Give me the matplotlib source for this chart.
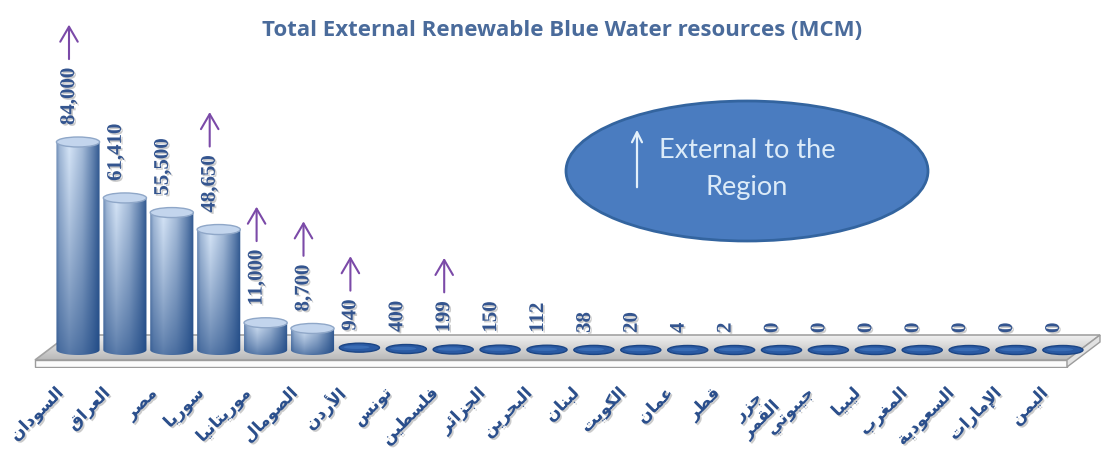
import numpy as np
import matplotlib
matplotlib.use("Agg")
import matplotlib.pyplot as plt
from matplotlib.patches import Ellipse, PathPatch, Polygon, FancyArrowPatch
from matplotlib.path import Path
from matplotlib import patheffects as pe
from matplotlib.colors import to_rgb
from matplotlib.transforms import ScaledTranslation, IdentityTransform

# ---------------------------------------------------------------- data
countries = ["السودان", "العراق", "مصر", "سوريا", "موريتانيا", "الصومال",
             "الأردن", "تونس", "فلسطين", "الجزائر", "البحرين", "لبنان",
             "الكويت", "عمان", "قطر", "جزر القمر", "جيبوتي", "ليبيا",
             "المغرب", "السعودية", "الإمارات", "اليمن"]
external_mcm = [84000, 61410, 55500, 48650, 11000, 8700, 940, 400, 199, 150,
                112, 38, 20, 4, 2, 0, 0, 0, 0, 0, 0, 0]
# countries whose external water comes from outside the region
outside_region = ["السودان", "سوريا", "موريتانيا", "الصومال", "الأردن", "فلسطين"]
title = "Total External Renewable Blue Water resources (MCM)"
note_lines = ["External to the", "Region"]

# ---------------------------------------------------------------- arabic shaping
_FORMS = {
    'ا': ('\uFE8D', '\uFE8E', None, None),
    'أ': ('\uFE83', '\uFE84', None, None),
    'إ': ('\uFE87', '\uFE88', None, None),
    'ب': ('\uFE8F', '\uFE90', '\uFE91', '\uFE92'),
    'ة': ('\uFE93', '\uFE94', None, None),
    'ت': ('\uFE95', '\uFE96', '\uFE97', '\uFE98'),
    'ج': ('\uFE9D', '\uFE9E', '\uFE9F', '\uFEA0'),
    'ح': ('\uFEA1', '\uFEA2', '\uFEA3', '\uFEA4'),
    'د': ('\uFEA9', '\uFEAA', None, None),
    'ر': ('\uFEAD', '\uFEAE', None, None),
    'ز': ('\uFEAF', '\uFEB0', None, None),
    'س': ('\uFEB1', '\uFEB2', '\uFEB3', '\uFEB4'),
    'ص': ('\uFEB9', '\uFEBA', '\uFEBB', '\uFEBC'),
    'ط': ('\uFEC1', '\uFEC2', '\uFEC3', '\uFEC4'),
    'ع': ('\uFEC9', '\uFECA', '\uFECB', '\uFECC'),
    'غ': ('\uFECD', '\uFECE', '\uFECF', '\uFED0'),
    'ف': ('\uFED1', '\uFED2', '\uFED3', '\uFED4'),
    'ق': ('\uFED5', '\uFED6', '\uFED7', '\uFED8'),
    'ك': ('\uFED9', '\uFEDA', '\uFEDB', '\uFEDC'),
    'ل': ('\uFEDD', '\uFEDE', '\uFEDF', '\uFEE0'),
    'م': ('\uFEE1', '\uFEE2', '\uFEE3', '\uFEE4'),
    'ن': ('\uFEE5', '\uFEE6', '\uFEE7', '\uFEE8'),
    'و': ('\uFEED', '\uFEEE', None, None),
    'ي': ('\uFEF1', '\uFEF2', '\uFEF3', '\uFEF4'),
    'ئ': ('\uFE89', '\uFE8A', '\uFE8B', '\uFE8C'),
}
_LAM_ALEF = {'ا': ('\uFEFB', '\uFEFC'), 'أ': ('\uFEF7', '\uFEF8'),
             'إ': ('\uFEF9', '\uFEFA')}


def shape_arabic(word):
    """Contextual forms + visual (left-to-right) order for plain rendering."""
    chars = list(word)
    tokens, k = [], 0
    while k < len(chars):
        if chars[k] == 'ل' and k + 1 < len(chars) and chars[k + 1] in _LAM_ALEF:
            tokens.append(('LA', chars[k + 1]))
            k += 2
        else:
            tokens.append(('C', chars[k]))
            k += 1

    def joins_next(tok):
        return tok[0] == 'C' and tok[1] in _FORMS and _FORMS[tok[1]][2] is not None

    def is_letter(tok):
        return tok[0] == 'LA' or tok[1] in _FORMS

    out = []
    for k, tok in enumerate(tokens):
        prev = k > 0 and joins_next(tokens[k - 1]) and is_letter(tok)
        nxt = k + 1 < len(tokens) and joins_next(tok) and is_letter(tokens[k + 1])
        kind, c = tok
        if kind == 'LA':
            out.append(_LAM_ALEF[c][1 if prev else 0])
        elif c not in _FORMS:
            out.append(c)
        else:
            iso, fin, ini, med = _FORMS[c]
            out.append(med if (prev and nxt) else fin if prev else ini if nxt else iso)
    return ''.join(reversed(out))


def category_label(name):
    # one word per line, each shaped on its own
    return '\n'.join(shape_arabic(w) for w in name.split(' '))


# ---------------------------------------------------------------- layout
W, H, DPI = 1102, 453, 100
AX_BOTTOM_PX = 368          # axes spans pixel rows 0..368 (from top)
BASE_PX = 350               # pixel row of the zero line
STEP_PX = 46.9              # distance between categories
FIRST_PX = 78               # centre of first category
TOP_PX = 142                # pixel row reached by the tallest bar

fig = plt.figure(figsize=(W / DPI, H / DPI), dpi=DPI)
fig.patch.set_facecolor('white')
ax = fig.add_axes([0, (H - AX_BOTTOM_PX) / H, 1, AX_BOTTOM_PX / H])
ax.set_axis_off()

vmax = max(external_mcm)
px_per_unit = (BASE_PX - TOP_PX) / vmax
ax.set_xlim(-FIRST_PX / STEP_PX, (W - FIRST_PX) / STEP_PX)
ax.set_ylim(-(AX_BOTTOM_PX - BASE_PX) / px_per_unit, BASE_PX / px_per_unit)
ax.autoscale(False)


def px_to_data(px, py):
    return ax.transData.inverted().transform((px, H - py))


def offset(dx_px, dy_px):
    return ScaledTranslation(dx_px / DPI, dy_px / DPI, fig.dpi_scale_trans)


# ---------------------------------------------------------------- floor
def gradient_fill(poly_pts, c_top, c_bot, z):
    patch = Polygon(poly_pts, closed=True, facecolor='none', edgecolor='none')
    ax.add_patch(patch)
    a, b = np.array(to_rgb(c_top)), np.array(to_rgb(c_bot))
    t = np.linspace(0, 1, 64)[:, None, None]
    img = np.repeat(a * (1 - t) + b * t, 2, axis=1)
    xs = [p[0] for p in poly_pts]
    ys = [p[1] for p in poly_pts]
    im = ax.imshow(img, extent=[min(xs), max(xs), min(ys), max(ys)],
                   origin='upper', aspect='auto', zorder=z, interpolation='bilinear')
    im.set_clip_path(patch)


back_l, back_r = px_to_data(68, 335), px_to_data(1100, 335)
front_l, front_r = px_to_data(35, 360), px_to_data(1067, 360)
front_lb, front_rb = px_to_data(35, 367), px_to_data(1067, 367)
side_rb = px_to_data(1100, 342)

top_face = [back_l, back_r, front_r, front_l]
gradient_fill(top_face, '#f0f0f0', '#b9b9b9', 1)
ax.add_patch(Polygon(top_face, closed=True, facecolor='none',
                     edgecolor='#a3a3a3', lw=1.2, zorder=1.5))
ax.add_patch(Polygon([front_l, front_r, front_rb, front_lb], closed=True,
                     facecolor='#fbfbfb', edgecolor='#9c9c9c', lw=1.0, zorder=1.5))
ax.add_patch(Polygon([front_r, back_r, side_rb, front_rb], closed=True,
                     facecolor='#e2e2e2', edgecolor='#9c9c9c', lw=1.0, zorder=1.5))

# ---------------------------------------------------------------- cylinders
HALF_W = 0.46
RY = 5 / px_per_unit        # vertical radius of the elliptical caps
dark = np.array(to_rgb('#1a4582'))
light = np.array(to_rgb('#d6e5f7'))

uu = np.linspace(0, 1, 80)
hprof = np.interp(uu, [0, 0.08, 0.3, 0.6, 0.85, 1.0],
                  [0.45, 0.72, 1.0, 0.74, 0.38, 0.12])
vv = np.linspace(1, 0, 120)[:, None]     # image rows top -> bottom
vprof = 0.32 + 0.68 * vv ** 0.8
weight = (hprof[None, :] * vprof)[..., None]
body_img = dark + weight * (light - dark)

for i, v in enumerate(external_mcm):
    h_px = v * px_per_unit
    if h_px < 4:
        ax.add_patch(Ellipse((i, v), 2 * HALF_W * 0.93, 2 * RY * 0.9,
                             facecolor='#2a5aa3', edgecolor='#1b4585', lw=1.0, zorder=3))
        ax.add_patch(Ellipse((i - 0.06, v + RY * 0.1), 2 * HALF_W * 0.6, 2 * RY * 0.35,
                             facecolor='#3a6db5', edgecolor='none', zorder=3.1))
        continue
    t = np.linspace(np.pi, 2 * np.pi, 40)
    verts = [(i - HALF_W, v), (i - HALF_W, 0)]
    verts += list(zip(i + HALF_W * np.cos(t), RY * np.sin(t)))
    verts += [(i + HALF_W, v), (i - HALF_W, v)]
    body = PathPatch(Path(verts, closed=True), facecolor='none', edgecolor='none')
    ax.add_patch(body)
    im = ax.imshow(body_img, extent=[i - HALF_W, i + HALF_W, -RY, v],
                   origin='upper', aspect='auto', zorder=3, interpolation='bilinear')
    im.set_clip_path(body)
    ax.add_patch(Ellipse((i, v), 2 * HALF_W, 2 * RY, facecolor='#c3d5ed',
                         edgecolor='#8fa7c8', lw=1.0, zorder=3.2))

# ---------------------------------------------------------------- value labels
shadow = [pe.SimplePatchShadow(offset=(1.2, -1.2), shadow_rgbFace='0.55', alpha=0.45),
          pe.Normal()]
value_texts = []
for i, v in enumerate(external_mcm):
    t = ax.text(i, v, f"{v:,}", rotation=90, ha='center', va='bottom',
                fontsize=15, fontweight='bold', family='Liberation Serif',
                color='#34558f', zorder=5, path_effects=shadow,
                transform=ax.transData + offset(-9, 17))
    value_texts.append(t)

# ---------------------------------------------------------------- category labels
for i, name in enumerate(countries):
    ax.text(i, 0, category_label(name), rotation=45, rotation_mode='anchor',
            ha='right', va='top', multialignment='center', linespacing=1.0,
            fontsize=12, fontweight='bold',
            family='DejaVu Sans', color='#2b4f8c', path_effects=shadow,
            transform=ax.transData + offset(-24, -34))

# ---------------------------------------------------------------- title
fig.text(562 / W, 1 - 30 / H, title, ha='center', va='center', fontsize=16,
         fontweight='bold', family='Open Sans', color='#4a6b9b')

# ---------------------------------------------------------------- callout
fig.add_artist(Ellipse((747 / W, 1 - 171 / H), 362 / W, 140 / H,
                       transform=fig.transFigure, facecolor='#4a7cc0',
                       edgecolor='#33649f', lw=2, zorder=2))
for line, ypx in zip(note_lines, [150, 187]):
    fig.text(747 / W, 1 - ypx / H, line, ha='center', va='center', fontsize=19.5,
             family='Lato', color='#dcebf8', zorder=3)
fig.add_artist(FancyArrowPatch((637, H - 190), (637, H - 127),
                               transform=IdentityTransform(), arrowstyle='->',
                               color='#e3f0fa', lw=1.6, mutation_scale=18,
                               zorder=3))

# ---------------------------------------------------------------- arrows above labels
fig.canvas.draw()
renderer = fig.canvas.get_renderer()
for i, name in enumerate(countries):
    if name not in outside_region:
        continue
    bb = value_texts[i].get_window_extent(renderer)
    cx = 0.5 * (bb.x0 + bb.x1)
    y0 = bb.y1 + 6
    fig.add_artist(FancyArrowPatch((cx, y0), (cx, y0 + 40),
                                   transform=IdentityTransform(),
                                   arrowstyle='->,head_length=0.6,head_width=0.35',
                                   color='#7b4aa8', lw=1.5, mutation_scale=18,
                                   zorder=3))

fig.savefig('out.png', dpi=DPI, facecolor='white')
